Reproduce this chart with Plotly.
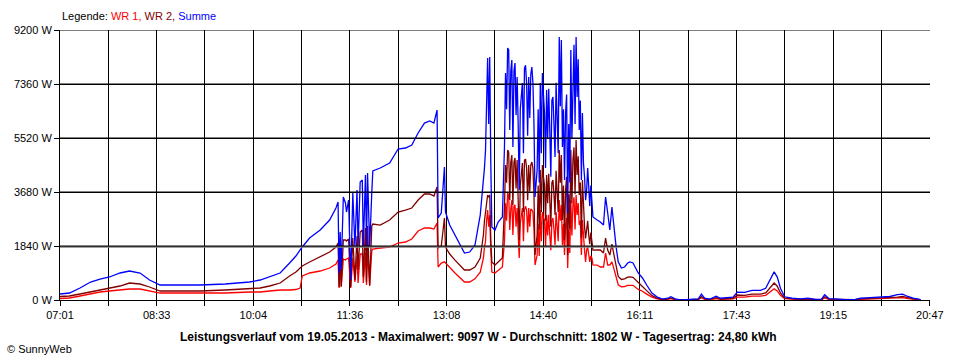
import plotly.graph_objects as go
import pandas as pd

DAY = "2013-05-19"

TIME = [
    # morning and first cloudy phase
    "07:01", "07:10", "07:20", "07:30", "07:39", "07:48", "07:58", "08:07", "08:17", "08:26",
    "08:36", "08:50", "09:14", "09:38", "10:01", "10:11", "10:20", "10:30", "10:39", "10:45",
    "10:49", "10:51", "10:58", "11:08", "11:17", "11:23", "11:25", "11:26", "11:27", "11:28",
    "11:30", "11:32", "11:33", "11:35", "11:37", "11:39", "11:41", "11:43", "11:44", "11:46",
    "11:48", "11:49", "11:51", "11:52", "11:53", "11:55", "11:57", "11:58", "12:05", "12:14",
    "12:22", "12:29", "12:35", "12:41", "12:47", "12:52", "12:56", "12:59", "13:00", "13:03",
    "13:06", "13:07", "13:11", "13:16", "13:21", "13:25", "13:30", "13:35", "13:40", "13:43",
    # peak phase
    "13:44", "13:45", "13:46", "13:47", "13:48", "13:49", "13:50", "13:51", "13:54", "13:57",
    "14:01", "14:03", "14:04", "14:05", "14:06", "14:07", "14:08", "14:09", "14:10", "14:11",
    "14:12", "14:13", "14:14", "14:15", "14:16", "14:17", "14:18", "14:20", "14:21", "14:22",
    "14:23", "14:24", "14:25", "14:26", "14:27", "14:28", "14:29", "14:30", "14:31", "14:32",
    "14:34", "14:35", "14:36", "14:37", "14:38", "14:39", "14:40", "14:41", "14:42", "14:43",
    "14:44", "14:45", "14:46", "14:47", "14:48", "14:49", "14:50", "14:51", "14:52", "14:53",
    "14:54", "14:55", "14:56", "14:57", "14:58", "14:59", "15:00", "15:01", "15:02", "15:03",
    "15:04", "15:05", "15:06", "15:07", "15:08", "15:09", "15:10", "15:11", "15:12", "15:13",
    "15:14", "15:15", "15:16", "15:17", "15:18", "15:19", "15:20", "15:21", "15:22", "15:23",
    "15:24", "15:25", "15:26", "15:27",
    # afternoon / evening
    "15:31", "15:34", "15:37", "15:39", "15:41", "15:43", "15:45", "15:47", "15:49",
    "15:51", "15:54", "15:57", "16:00", "16:02", "16:05", "16:10", "16:14", "16:18", "16:23",
    "16:28", "16:33", "16:38", "16:41", "16:45", "16:50", "16:59", "17:07", "17:10", "17:13",
    "17:18", "17:24", "17:28", "17:34", "17:40", "17:44", "17:51", "17:58", "18:06", "18:11",
    "18:15", "18:19", "18:22", "18:25", "18:29", "18:36", "18:44", "18:51", "18:58", "19:04",
    "19:07", "19:11", "19:17", "19:26", "19:36", "19:41", "19:50", "19:59", "20:09", "20:16",
    "20:21", "20:26", "20:31", "20:36", "20:38",
]

WR1 = [
    51, 68, 136, 204, 273, 307, 341, 375, 375, 307,
    238, 238, 238, 238, 273, 273, 307, 341, 341, 358,
    409, 818, 920, 988, 1090, 1227, 1363, 409, 1329, 443,
    1397, 1363, 1397, 1431, 409, 1431, 613, 1499, 579, 1567,
    1567, 579, 1601, 511, 1635, 477, 1670, 1738, 1772, 1806,
    1942, 1976, 2078, 2351, 2453, 2453, 2419, 2623, 1124, 1260,
    1300, 1260, 1090, 920, 750, 613, 613, 720, 950, 1431,
    1800, 2000, 2700, 3066, 2500, 2896, 1704, 954, 920, 1022,
    1124, 2000, 3300, 2700, 3645, 3577, 2385, 3100, 3407, 2215,
    3200, 3237, 2500, 3134, 2400, 1431, 2600, 3134, 2000, 3066,
    3200, 3066, 2300, 3134, 2500, 3100, 3066, 3000, 2400, 1192,
    1533, 2600, 1500, 3066, 2000, 2998, 2800, 2726, 1800, 2896,
    2200, 2900, 2215, 1700, 2700, 2794, 2400, 1874, 3000, 2555,
    2000, 3407, 2700, 3237, 1874, 2600, 1533, 2555, 2800, 1090,
    2400, 1600, 3407, 2200, 3237, 3500, 2400, 3577, 2896, 3300,
    2555, 2700, 1533, 2726, 2044, 1700, 1300, 1704, 1800, 1533,
    1300, 1500, 1431, 1200,
    1192, 1124, 1124, 1601, 1192, 1192, 1300, 1050, 750,
    520, 450, 460, 500, 510, 500, 360, 300, 200, 95,
    40, 10, 25, 50, 15, 0, 10, 15, 80, 25,
    10, 50, 25, 35, 40, 100, 100, 130, 130, 160,
    270, 380, 310, 160, 45, 25, 15, 25, 10, 10,
    70, 20, 15, 5, 10, 20, 30, 40, 50, 80,
    80, 50, 25, 10, 5,
]

WR2 = [
    119, 136, 204, 273, 341, 409, 477, 579, 545, 443,
    307, 307, 307, 341, 375, 409, 477, 579, 818, 954,
    1090, 1158, 1295, 1465, 1635, 1806, 1942, 443, 2010, 477,
    2044, 2044, 2010, 2078, 443, 2112, 681, 2180, 1022, 2317,
    2385, 784, 2453, 613, 2521, 511, 2521, 2589, 2555, 2726,
    2998, 3066, 3134, 3407, 3611, 3611, 3543, 3850, 1772, 1840,
    2794, 1806, 1567, 1360, 1190, 1022, 1022, 1120, 1430, 2215,
    2700, 3000, 3300, 3577, 3500, 3577, 2044, 1295, 1192, 1295,
    1431, 3200, 4600, 4000, 5110, 5042, 3407, 4700, 4940, 3237,
    4700, 4838, 3800, 4770, 3600, 2044, 3900, 4668, 3000, 4770,
    4800, 4497, 3400, 4600, 3700, 4600, 4702, 4500, 3600, 1533,
    2215, 3900, 2400, 4429, 3000, 4600, 4200, 3918, 2700, 4259,
    3300, 4300, 3407, 2500, 4000, 4088, 3600, 2896, 4400, 3748,
    3000, 5110, 4000, 4940, 2726, 3900, 2044, 3748, 4200, 1533,
    3600, 2400, 5110, 3300, 4770, 5200, 3600, 5451, 4259, 4900,
    3577, 4000, 2112, 4088, 3066, 2500, 2100, 2385, 2700, 2215,
    1900, 2300, 2044, 1700,
    1704, 1704, 1601, 2112, 1704, 1533, 1900, 1500, 1100,
    800, 700, 720, 780, 790, 770, 580, 460, 320, 150,
    60, 20, 35, 60, 25, 0, 10, 25, 120, 35,
    20, 80, 35, 45, 60, 170, 160, 200, 200, 240,
    410, 580, 470, 240, 65, 35, 25, 35, 10, 20,
    110, 30, 25, 5, 10, 40, 50, 60, 70, 100,
    120, 70, 35, 20, 5,
]

SUMME = [
    204, 238, 409, 613, 715, 784, 920, 988, 920, 681,
    511, 511, 511, 545, 613, 681, 784, 920, 1260, 1499,
    1704, 1806, 2112, 2385, 2726, 3134, 3339, 920, 2317, 1022,
    3509, 3305, 2998, 3407, 681, 3645, 1806, 3748, 1806, 4020,
    4088, 1806, 4259, 1806, 4327, 1806, 3645, 4395, 4497, 4668,
    5145, 5179, 5281, 5690, 6030, 6099, 6030, 6473, 2794, 2964,
    4531, 2998, 2555, 2215, 1874, 1600, 1635, 1874, 2900, 3986,
    4500, 5110, 7000, 8245, 6000, 8280, 4668, 2487, 2385, 2657,
    2828, 5213, 7734, 6500, 8586, 8518, 5792, 7800, 8177, 5213,
    7800, 8075, 6300, 7598, 6000, 3748, 6500, 7393, 5000, 7904,
    8000, 7393, 5600, 7598, 6200, 7700, 7939, 7400, 6000, 3509,
    4429, 6500, 4000, 7393, 5000, 7734, 7000, 6371, 4500, 7155,
    5500, 7200, 5792, 4200, 6800, 6916, 6000, 4872, 7400, 6371,
    5000, 8960, 6600, 8858, 5213, 6500, 4088, 6371, 7000, 2964,
    6000, 4000, 8518, 5500, 7836, 8700, 6000, 8960, 6916, 8200,
    5792, 6800, 4088, 6371, 4668, 4200, 3400, 3748, 4500, 3645,
    3200, 3900, 3407, 2828,
    2726, 2657, 2555, 3509, 2964, 2385, 3169, 2400, 1800,
    1300, 1090, 1124, 1260, 1295, 1261, 920, 750, 511, 238,
    100, 30, 60, 110, 40, 0, 20, 40, 200, 60,
    30, 130, 60, 80, 100, 270, 260, 330, 330, 400,
    680, 960, 780, 400, 110, 60, 40, 60, 20, 30,
    180, 50, 40, 10, 20, 60, 80, 100, 120, 180,
    200, 120, 60, 30, 10,
]

assert len(TIME) == len(WR1) == len(WR2) == len(SUMME)

Y_TICKS = [0, 1840, 3680, 5520, 7360, 9200]
Y_LABELS = ["0 W", "1840 W", "3680 W", "5520 W", "7360 W", "9200 W"]
X_LABELS = ["07:01", "08:33", "10:04", "11:36", "13:08", "14:40", "16:11", "17:43", "19:15", "20:47"]
AVERAGE = 1802
TITLE = "Leistungsverlauf vom 19.05.2013 - Maximalwert: 9097 W - Durchschnitt: 1802 W - Tagesertrag: 24,80 kWh"

x = [f"{DAY} {t}" for t in TIME]
start = pd.Timestamp(f"{DAY} {X_LABELS[0]}")
end = pd.Timestamp(f"{DAY} {X_LABELS[-1]}")
n_int = 2 * (len(X_LABELS) - 1)
step = (end - start) / n_int
tickvals = [(start + k * step).strftime("%Y-%m-%d %H:%M:%S") for k in range(n_int + 1)]
ticktext = [X_LABELS[k // 2] if k % 2 == 0 else "" for k in range(n_int + 1)]

fig = go.Figure()
for name, vals, col in [("WR 1", WR1, "#ff0000"), ("WR 2", WR2, "#800000"), ("Summe", SUMME, "#0000ff")]:
    fig.add_trace(go.Scatter(x=x, y=vals, mode="lines", name=name,
                             line=dict(color=col, width=1.3), hoverinfo="skip"))

# average line (grey) just under the 1840 W gridline
fig.add_shape(type="line", xref="paper", x0=0, x1=1, yref="y", y0=AVERAGE, y1=AVERAGE,
              line=dict(color="#808080", width=1.5), layer="above")
# horizontal grid drawn above the data (as in the original)
for yv in Y_TICKS[1:]:
    fig.add_shape(type="line", xref="paper", x0=0, x1=1, yref="y", y0=yv, y1=yv,
                  line=dict(color="black", width=1), layer="above")

fig.update_layout(
    width=960, height=360,
    margin=dict(l=60, r=30, t=30, b=60),
    paper_bgcolor="white", plot_bgcolor="white",
    showlegend=False,
    font=dict(family="Liberation Sans, Arial, sans-serif", size=11, color="black"),
)
fig.update_xaxes(
    type="date", range=[start.strftime("%Y-%m-%d %H:%M:%S"), end.strftime("%Y-%m-%d %H:%M:%S")],
    tickmode="array", tickvals=tickvals, ticktext=ticktext,
    showgrid=True, gridcolor="black", gridwidth=1,
    showline=True, linecolor="black", linewidth=1,
    ticks="outside", ticklen=5, tickcolor="black",
    tickfont=dict(family="Liberation Sans, Arial", size=11),
    zeroline=False,
)
fig.update_yaxes(
    range=[0, 9200], tickmode="array", tickvals=Y_TICKS, ticktext=Y_LABELS,
    showgrid=True, gridcolor="black", gridwidth=1,
    showline=True, linecolor="black", linewidth=1,
    ticks="outside", ticklen=5, tickcolor="black",
    zeroline=False,
    tickfont=dict(family="Liberation Sans, Arial", size=11),
)

fig.add_annotation(
    xref="paper", yref="paper", x=0, y=(300 - 16) / 270, xanchor="left", yanchor="middle",
    text="Legende: <span style='color:#ff0000'>WR 1,</span> <span style='color:#800000'>WR 2,</span> <span style='color:#0000ff'>Summe</span>",
    showarrow=False, font=dict(family="Liberation Sans, Arial", size=11, color="black"),
)
fig.add_annotation(
    xref="paper", yref="paper", x=(478 - 60) / 870, y=(300 - 337) / 270, xanchor="center", yanchor="middle",
    text="<b>" + TITLE + "</b>", showarrow=False,
    font=dict(family="Liberation Sans, Arial", size=12, color="black"),
)
fig.add_annotation(
    xref="paper", yref="paper", x=(5 - 60) / 870, y=(300 - 349) / 270, xanchor="left", yanchor="middle",
    text="© SunnyWeb", showarrow=False, font=dict(family="Liberation Sans, Arial", size=11, color="black"),
)

fig.write_html("out.html", config={"displayModeBar": False},
               post_script="document.body.style.margin='0px';")
